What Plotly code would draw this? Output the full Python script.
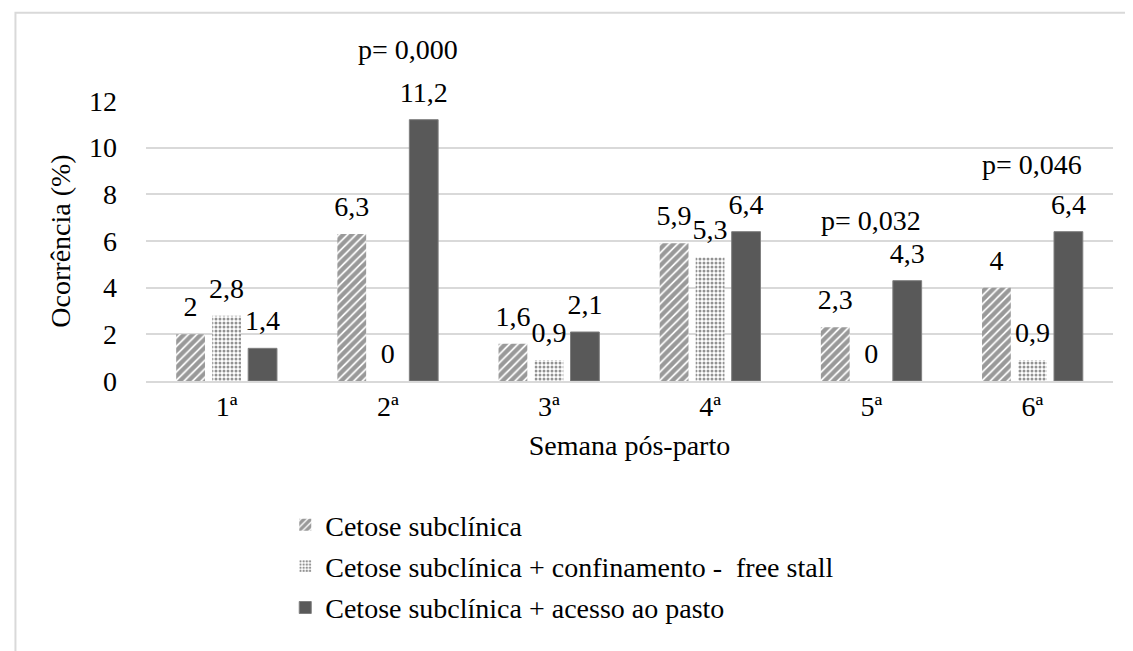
import plotly.graph_objects as go

semanas = ["1ª", "2ª", "3ª", "4ª", "5ª", "6ª"]
cetose = [2, 6.3, 1.6, 5.9, 2.3, 4]
free_stall = [2.8, 0, 0.9, 5.3, 0, 0.9]
pasto = [1.4, 11.2, 2.1, 6.4, 4.3, 6.4]
nomes = ["Cetose subclínica",
         "Cetose subclínica + confinamento -  free stall",
         "Cetose subclínica + acesso ao pasto"]
p_semanas = ["2ª", "5ª", "6ª"]
p_textos = ["p= 0,000", "p= 0,032", "p= 0,046"]
p_alturas = [14.2, 6.86, 9.3]

FONT = "'Liberation Serif', 'Times New Roman', serif"
FS = 28
LABEL_LIFT = 0.38   # extra space (axis units) between bar top and its data label

def fmt(v):
    return ("%g" % v).replace(".", ",")

series = [
    (cetose, nomes[0], "a", dict(color="white", line=dict(width=0),
                                 pattern=dict(shape="/", fgcolor="#333333",
                                              bgcolor="white", size=6,
                                              solidity=0.7))),
    (free_stall, nomes[1], "b", dict(color="white", line=dict(width=0),
                                     pattern=dict(shape=".", fgcolor="#262626",
                                                  bgcolor="white", size=4,
                                                  solidity=0.45))),
    (pasto, nomes[2], "c", dict(color="#595959",
                                line=dict(width=1, color="#7f7f7f"))),
]

fig = go.Figure()
for vals, nome, grp, mk in series:
    fig.add_trace(go.Bar(x=semanas, y=vals, name=nome, legendgroup=grp,
                         offsetgroup=grp, marker=mk, cliponaxis=False))
for vals, nome, grp, mk in series:
    # transparent helper bars sitting on top of each bar carry the data labels
    fig.add_trace(go.Bar(x=semanas, y=[LABEL_LIFT] * len(vals), base=vals,
                         offsetgroup=grp, showlegend=False, hoverinfo="skip",
                         marker=dict(color="rgba(0,0,0,0)", line=dict(width=0)),
                         text=[fmt(v) for v in vals], textposition="outside",
                         textfont=dict(family=FONT, size=FS, color="black"),
                         constraintext="none", cliponaxis=False))

for s, t, h in zip(p_semanas, p_textos, p_alturas):
    fig.add_annotation(x=s, y=h / 12.0, xref="x", yref="paper", text=t,
                       showarrow=False, yanchor="middle", xanchor="center",
                       xshift=20 if s == "2ª" else 0,
                       font=dict(family=FONT, size=FS, color="black"))

# outer light border of the chart area
fig.add_shape(type="rect", xref="paper", yref="paper",
              x0=-0.135, x1=1.2, y0=-1.5, y1=1.315,
              line=dict(color="#d9d9d9", width=2), layer="below")

fig.update_layout(
    width=1133, height=651,
    margin=dict(l=138, r=28, t=93, b=278),
    paper_bgcolor="white", plot_bgcolor="white",
    font=dict(family=FONT, size=FS, color="black"),
    barmode="group", bargap=0.33, bargroupgap=0.2,
    showlegend=True,
    legend=dict(orientation="v", x=0.144, y=-0.425, xanchor="left", yanchor="top",
                font=dict(family=FONT, size=FS, color="black"),
                tracegroupgap=2, itemwidth=30, traceorder="grouped"),
    xaxis=dict(showgrid=False, showline=True, linecolor="#d9d9d9", linewidth=1.5,
               ticks="", ticklabelstandoff=0,
               title=dict(text="Semana pós-parto", standoff=14,
                          font=dict(family=FONT, size=FS))),
    yaxis=dict(range=[0, 12], dtick=2, showgrid=True, gridcolor="#d9d9d9",
               gridwidth=1.5, zeroline=False, showline=False, ticks="",
               ticklabelstandoff=28,
               title=dict(text="Ocorrência (%)", standoff=10,
                          font=dict(family=FONT, size=FS))),
)

fig.write_html("out.html")
